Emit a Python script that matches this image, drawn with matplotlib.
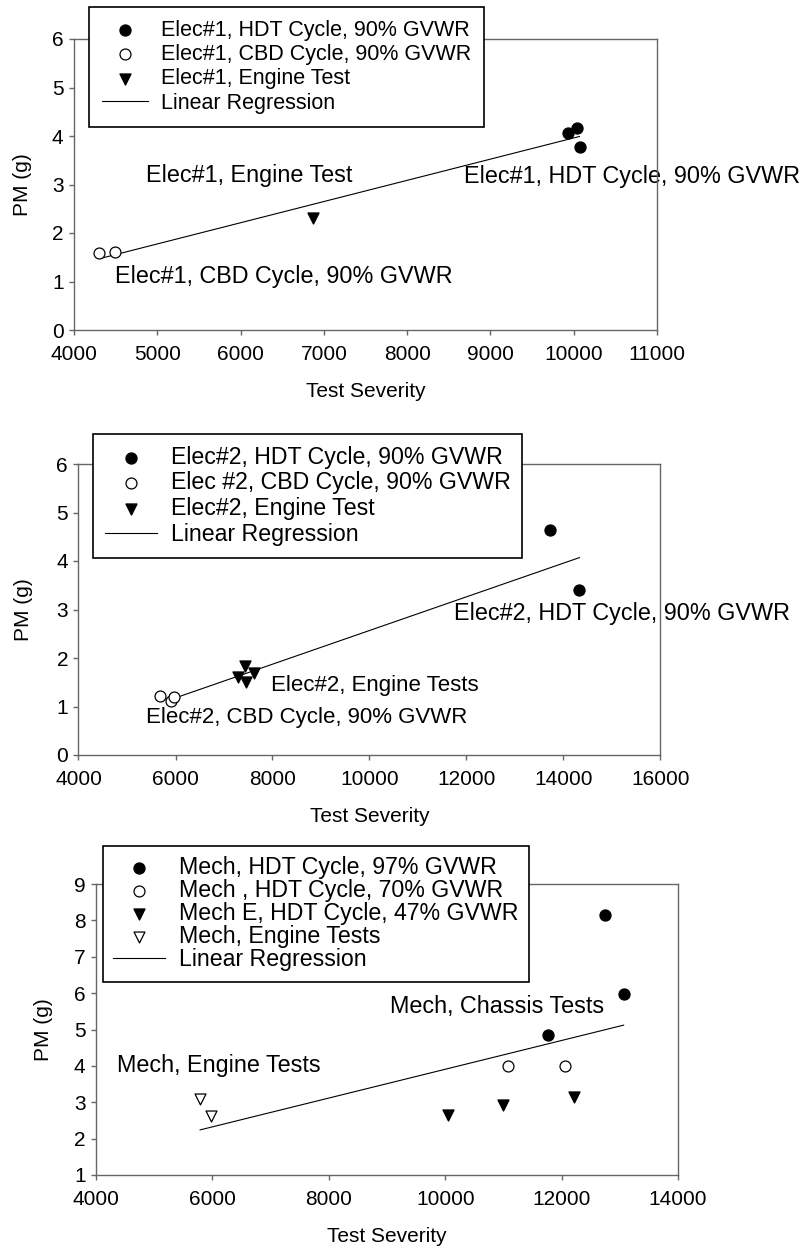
import numpy as np
import matplotlib
matplotlib.use("Agg")
import matplotlib.pyplot as plt
from matplotlib.lines import Line2D

plt.rcParams['font.family'] = ['Liberation Sans', 'DejaVu Sans']

# PANEL 1 DATA (Elec#1)
e1_hdt_x = [9926, 10037, 10074]
e1_hdt_y = [4.07, 4.17, 3.78]
e1_cbd_x = [4302, 4488]
e1_cbd_y = [1.59, 1.60]
e1_eng_x = [6864]
e1_eng_y = [2.30]
e1_reg_x = [4327, 10068]
e1_reg_y = [1.48, 3.99]

# PANEL 2 DATA (Elec#2)
e2_hdt_x = [13714, 14328]
e2_hdt_y = [4.63, 3.41]
e2_cbd_x = [5681, 5903, 5977]
e2_cbd_y = [1.22, 1.11, 1.20]
e2_eng_x = [7298, 7437, 7457, 7626]
e2_eng_y = [1.60, 1.83, 1.51, 1.69]
e2_reg_x = [5977, 14328]
e2_reg_y = [1.17, 4.07]

# PANEL 3 DATA (Mech)
m_97_x = [12749, 13066, 11762]
m_97_y = [8.14, 5.98, 4.84]
m_70_x = [11075, 12053]
m_70_y = [3.99, 3.99]
m_47_x = [10044, 10987, 12211]
m_47_y = [2.65, 2.92, 3.15]
m_eng_x = [5789, 5974]
m_eng_y = [3.10, 2.62]
m_reg_x = [5789, 13066]
m_reg_y = [2.24, 5.12]

W, H = 804, 1249
fig = plt.figure(figsize=(W / 100, H / 100), dpi=100)

SPINE = '#666666'
TICK_FS = 15
ANN_FS = 16.8
MS = 62


def px_axes(left, right, top, bottom):
    return fig.add_axes([left / W, 1 - bottom / H, (right - left) / W, (bottom - top) / H])


def style(ax, xlim, ylim, xticks, yticks, ylab_x):
    ax.set_xlim(xlim)
    ax.set_ylim(ylim)
    ax.set_xticks(xticks)
    ax.set_yticks(yticks)
    for s in ax.spines.values():
        s.set_color(SPINE)
        s.set_linewidth(1.0)
    ax.tick_params(axis='both', direction='out', length=3.5, width=1, color=SPINE,
                   labelsize=TICK_FS, top=False, right=False)
    ax.tick_params(axis='x', pad=7)
    ax.tick_params(axis='y', pad=4)
    ax.set_xlabel('Test Severity', fontsize=TICK_FS)
    ax.set_ylabel('PM (g)', fontsize=TICK_FS)
    ax.xaxis.set_label_coords(0.5, -0.18)
    ax.yaxis.set_label_coords(ylab_x, 0.5)


def legend(handles, labels, x_px, y_px, fs, lspace, bpad, hlen):
    leg = fig.legend(handles, labels, loc='upper left',
                     bbox_to_anchor=(x_px / W, 1 - y_px / H), borderaxespad=0,
                     fontsize=fs, fancybox=False, framealpha=1, edgecolor='black',
                     handlelength=hlen, handletextpad=0.6, labelspacing=lspace,
                     borderpad=bpad, scatterpoints=1)
    leg.get_frame().set_linewidth(1.2)
    leg.set_zorder(10)
    return leg


reg_handle = Line2D([], [], color='black', lw=0.8)

# ---- PANEL 1 ----
ax1 = px_axes(74, 657, 39, 330)
h1 = ax1.scatter(e1_hdt_x, e1_hdt_y, s=MS, c='black', marker='o', zorder=3)
h2 = ax1.scatter(e1_cbd_x, e1_cbd_y, s=MS, facecolors='white', edgecolors='black', marker='o', linewidths=0.9, zorder=3)
h3 = ax1.scatter(e1_eng_x, e1_eng_y, s=MS, c='black', marker='v', zorder=3)
ax1.plot(e1_reg_x, e1_reg_y, color='black', lw=0.8, zorder=2)
style(ax1, (4000, 11000), (0, 6), np.arange(4000, 11001, 1000), range(0, 7), -0.072)
ax1.text(4863, 3.19, 'Elec#1, Engine Test', fontsize=ANN_FS, va='center', ha='left')
ax1.text(8688, 3.17, 'Elec#1, HDT Cycle, 90% GVWR', fontsize=ANN_FS, va='center', ha='left', clip_on=False, zorder=1)
ax1.text(4491, 1.10, 'Elec#1, CBD Cycle, 90% GVWR', fontsize=ANN_FS, va='center', ha='left')
legend([h1, h2, h3, reg_handle],
       ['Elec#1, HDT Cycle, 90% GVWR', 'Elec#1, CBD Cycle, 90% GVWR', 'Elec#1, Engine Test', 'Linear Regression'],
       89, 7, 15.5, 0.15, 0.6, 2.15)

# ---- PANEL 2 ----
ax2 = px_axes(78.5, 660.5, 464, 755)
g1 = ax2.scatter(e2_hdt_x, e2_hdt_y, s=MS, c='black', marker='o', zorder=3)
g2 = ax2.scatter(e2_cbd_x, e2_cbd_y, s=MS, facecolors='white', edgecolors='black', marker='o', linewidths=0.9, zorder=3)
g3 = ax2.scatter(e2_eng_x, e2_eng_y, s=MS, c='black', marker='v', zorder=3)
ax2.plot(e2_reg_x, e2_reg_y, color='black', lw=0.8, zorder=2)
style(ax2, (4000, 16000), (0, 6), np.arange(4000, 16001, 2000), range(0, 7), -0.078)
ax2.text(11739, 2.92, 'Elec#2, HDT Cycle, 90% GVWR', fontsize=16.8, va='center', ha='left', clip_on=False)
ax2.text(7965, 1.43, 'Elec#2, Engine Tests', fontsize=16, va='center', ha='left')
ax2.text(5396, 0.77, 'Elec#2, CBD Cycle, 90% GVWR', fontsize=16, va='center', ha='left')
legend([g1, g2, g3, reg_handle],
       ['Elec#2, HDT Cycle, 90% GVWR', 'Elec #2, CBD Cycle, 90% GVWR', 'Elec#2, Engine Test', 'Linear Regression'],
       93, 434, 16.7, 0.12, 0.5, 2.25)

# ---- PANEL 3 ----
ax3 = px_axes(96, 678, 884, 1175)
k1 = ax3.scatter(m_97_x, m_97_y, s=MS, c='black', marker='o', zorder=3)
k2 = ax3.scatter(m_70_x, m_70_y, s=MS, facecolors='white', edgecolors='black', marker='o', linewidths=0.9, zorder=3)
k3 = ax3.scatter(m_47_x, m_47_y, s=MS, c='black', marker='v', zorder=3)
k4 = ax3.scatter(m_eng_x, m_eng_y, s=MS, facecolors='white', edgecolors='black', marker='v', linewidths=0.9, zorder=3)
ax3.plot(m_reg_x, m_reg_y, color='black', lw=0.8, zorder=2)
style(ax3, (4000, 14000), (1, 9), np.arange(4000, 14001, 2000), range(1, 10), -0.074)
ax3.text(9048, 5.63, 'Mech, Chassis Tests', fontsize=ANN_FS, va='center', ha='left')
ax3.text(4361, 4.01, 'Mech, Engine Tests', fontsize=ANN_FS, va='center', ha='left')
legend([k1, k2, k3, k4, reg_handle],
       ['Mech, HDT Cycle, 97% GVWR', 'Mech , HDT Cycle, 70% GVWR', 'Mech E, HDT Cycle, 47% GVWR',
        'Mech, Engine Tests', 'Linear Regression'],
       102.6, 846, 16.7, 0.0, 0.45, 2.25)

plt.savefig('out.png', dpi=100)
